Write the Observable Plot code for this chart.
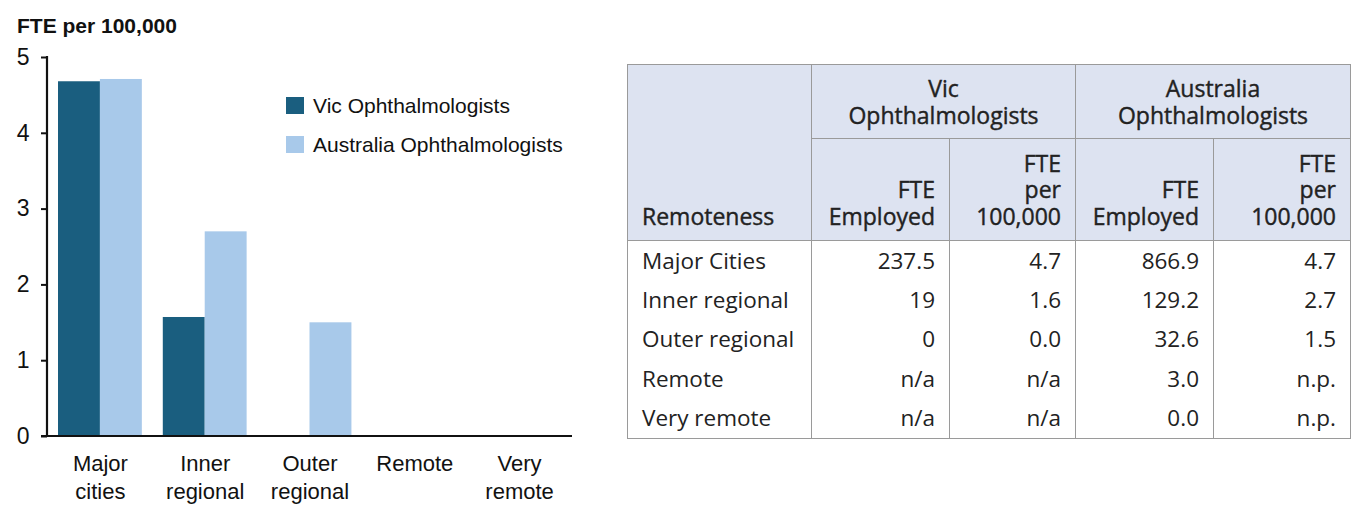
<!DOCTYPE html>
<html><head><meta charset="utf-8">
<script src="https://cdn.jsdelivr.net/npm/d3@7"></script>
<script src="https://cdn.jsdelivr.net/npm/@observablehq/plot@0.6"></script>
<style>
html,body{margin:0;padding:0;background:#fff;}
body{width:1353px;height:505px;position:relative;overflow:hidden;font-family:"Liberation Sans",Arial,sans-serif;color:#111;}
#title{position:absolute;left:17px;top:15px;font-weight:bold;font-size:21px;line-height:22px;white-space:nowrap;}
#chart{position:absolute;left:0;top:40px;}
#chart svg text{font-size:22px;}
#chart svg g[aria-label="y-axis tick label"] text{font-size:23px;}
#legend{position:absolute;left:286px;top:86px;font-size:21px;}
.lg{display:flex;align-items:center;height:39px;white-space:nowrap;}
.sw{width:18px;height:17px;margin-right:9px;}
#tbl{position:absolute;left:627px;top:64px;}
table{border-collapse:collapse;font-family:"Open Sans",sans-serif;font-size:22.5px;color:#222;table-layout:fixed;width:723px;}
th,td{border-left:1px solid #9a9a9a;border-right:1px solid #9a9a9a;padding:0 14px;white-space:pre-line;}
thead th{background:#dde3f1;font-weight:400;font-size:23px;color:#222;-webkit-text-stroke:0.4px #222;border:1px solid #9a9a9a;line-height:26.5px;}
thead tr.r1{height:74px;}
thead tr.r1 th{text-align:center;vertical-align:middle;}
thead tr.r2{height:102px;}
thead tr.r1 th.rem{text-align:left;vertical-align:bottom;padding-bottom:11px;}
thead tr.r2 th{text-align:right;vertical-align:bottom;padding-bottom:11px;}
tbody tr{height:39.6px;}
tbody td{text-align:right;vertical-align:middle;line-height:26px;}
tbody td:first-child{text-align:left;}
tbody tr:last-child td{border-bottom:1px solid #9a9a9a;}
</style>
</head><body>
<div id="title"></div>
<div id="chart"></div>
<div id="legend"></div>
<div id="tbl"></div>
<script>
// ---- chart data ----
const categories = ["Major cities", "Inner regional", "Outer regional", "Remote", "Very remote"];
const tickLabels = ["Major\ncities", "Inner\nregional", "Outer\nregional", "Remote", "Very\nremote"];
const series = ["Vic Ophthalmologists", "Australia Ophthalmologists"];
const vicRate = [4.68, 1.57, 0, null, null];
const ausRate = [4.71, 2.70, 1.50, null, null];
const colors = ["#1a5e7f", "#a8c9ea"];
const yTicks = [0, 1, 2, 3, 4, 5];
const yTitle = "FTE per 100,000";

// ---- table data ----
const tableRows = ["Major Cities", "Inner regional", "Outer regional", "Remote", "Very remote"];
const groupHeaders = ["Vic\nOphthalmologists", "Australia\nOphthalmologists"];
const subHeaders = ["FTE\nEmployed", "FTE\nper\n100,000"];
const rowHeader = "Remoteness";
const vicFTE = ["237.5", "19", "0", "n/a", "n/a"];
const vicPer = ["4.7", "1.6", "0.0", "n/a", "n/a"];
const ausFTE = ["866.9", "129.2", "32.6", "3.0", "0.0"];
const ausPer = ["4.7", "2.7", "1.5", "n.p.", "n.p."];

document.getElementById("title").textContent = yTitle;

const data = [];
categories.forEach((c, i) => {
  if (vicRate[i] != null) data.push({cat: c, series: series[0], value: vicRate[i]});
  if (ausRate[i] != null) data.push({cat: c, series: series[1], value: ausRate[i]});
});

const W = 580, mL = 47, mR = 8, pIn = 0.2, pOut = 0.105;
// offset of the first facet from the frame's left edge (the y axis sits on the frame edge)
const stepPx = (W - mL - mR) / (categories.length - pIn + 2 * pOut);
const axisShift = -stepPx * pOut;

const chart = Plot.plot({
  width: W, height: 465,
  marginTop: 17, marginBottom: 69, marginLeft: mL, marginRight: mR,
  style: {fontFamily: '"Liberation Sans", Arial, sans-serif', fontSize: "22px", color: "#111", background: "transparent", overflow: "visible"},
  fx: {domain: categories, paddingInner: pIn, paddingOuter: pOut, round: false, label: null},
  x: {domain: series, padding: 0, round: false, axis: null},
  y: {domain: [0, 5], label: null},
  color: {domain: series, range: colors},
  marks: [
    Plot.barY(data, {fx: "cat", x: "series", y: "value", fill: "series"}),
    Plot.axisY(yTicks, {tickSize: 6, tickPadding: 12, strokeWidth: 2, dx: axisShift, tickFormat: d => String(d), label: null}),
    Plot.axisFx({anchor: "bottom", tickSize: 0, tickPadding: 15, lineHeight: 1.27, label: null,
      tickFormat: d => tickLabels[categories.indexOf(d)]})
  ]
});
document.getElementById("chart").appendChild(chart);

// axis lines drawn through the plot's own scales
const ys = chart.scale("y"), fxs = chart.scale("fx");
const svg = d3.select(chart);
const left = fxs.range[0], right = fxs.range[1];
svg.append("line").attr("x1", left).attr("x2", left)
  .attr("y1", ys.apply(5) - 1).attr("y2", ys.apply(0) + 1)
  .attr("stroke", "#111").attr("stroke-width", 2.2);
svg.append("line").attr("x1", left - 6).attr("x2", right)
  .attr("y1", ys.apply(0)).attr("y2", ys.apply(0))
  .attr("stroke", "#111").attr("stroke-width", 2);

// legend
const lg = d3.select("#legend");
series.forEach((s, i) => {
  const row = lg.append("div").attr("class", "lg");
  row.append("div").attr("class", "sw").style("background", colors[i]);
  row.append("span").text(s);
});

// table
const t = d3.select("#tbl").append("table");
const cg = t.append("colgroup");
[184, 138, 126, 138, 137].forEach(w => cg.append("col").style("width", w + "px"));
const th = t.append("thead");
const r1 = th.append("tr").attr("class", "r1");
r1.append("th").attr("rowspan", 2).attr("class", "rem").text(rowHeader);
groupHeaders.forEach(g => r1.append("th").attr("colspan", 2).text(g));
const r2 = th.append("tr").attr("class", "r2");
groupHeaders.forEach(() => subHeaders.forEach(s => r2.append("th").text(s)));
const tb = t.append("tbody");
tableRows.forEach((r, i) => {
  const tr = tb.append("tr");
  [r, vicFTE[i], vicPer[i], ausFTE[i], ausPer[i]].forEach(v => tr.append("td").text(v));
});
</script>
</body></html>
